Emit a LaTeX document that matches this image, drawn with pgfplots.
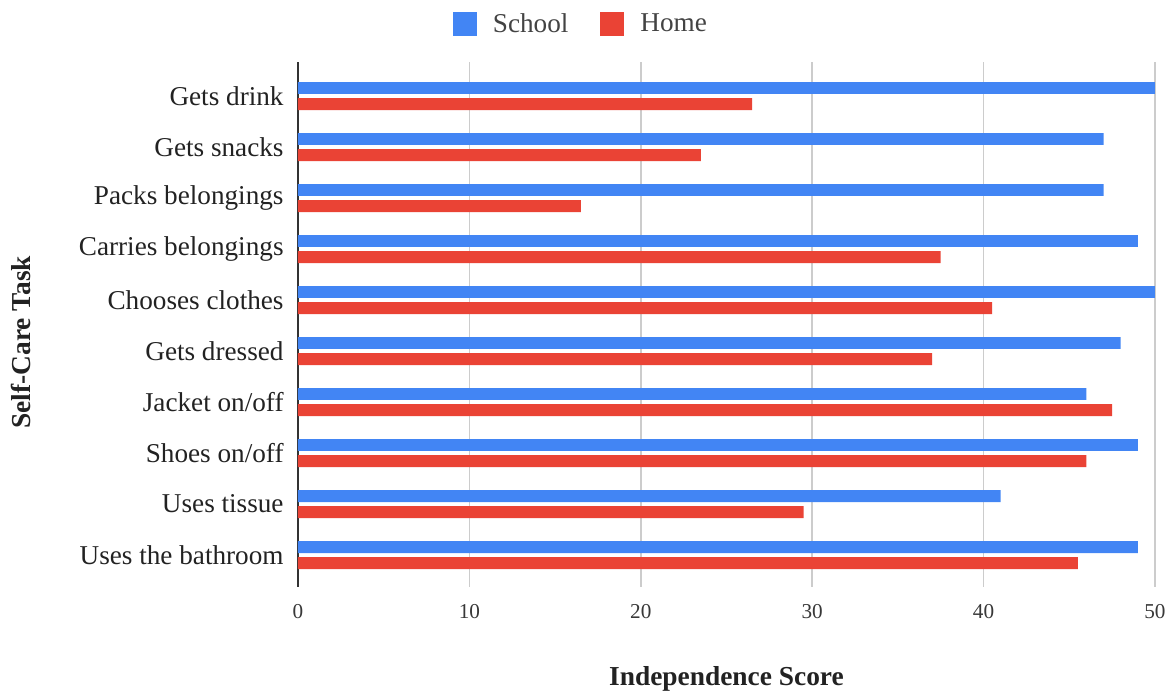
\documentclass[border=0pt]{standalone}
\usepackage{fontspec}
\setmainfont{Liberation Serif}
\usepackage{pgfplots}
\pgfplotsset{compat=1.18}
\usepackage{pgfplotstable}

\definecolor{schoolblue}{HTML}{4285F4}
\definecolor{homered}{HTML}{EA4335}
\definecolor{gridgray}{HTML}{CCCCCC}
\definecolor{axisdark}{HTML}{333333}
\definecolor{textdark}{HTML}{222222}

% Tasks listed bottom (0) to top (9)
\pgfplotstableread{
pos school home
9 50 26.5
8 47 23.5
7 47 16.5
6 49 37.5
5 50 40.5
4 48 37
3 46 47.5
2 49 46
1 41 29.5
0 49 45.5
}\scores

\begin{document}
\begin{tikzpicture}
\useasboundingbox (0,0) rectangle (587.5pt,348pt);
\begin{axis}[
  at={(149pt,54.5pt)}, anchor=south west,
  scale only axis,
  width=428.5pt, height=262.5pt,
  xbar,
  xmin=0, xmax=50,
  ymin=-0.627, ymax=9.667,
  xtick={10,20,30,40,50},
  extra x ticks={0},
  extra x tick style={grid style={color=axisdark, line width=0.8pt}},
  ytick={0,...,9},
  yticklabels={Uses the bathroom, Uses tissue, Shoes on/off, Jacket on/off,
    Gets dressed, Chooses clothes, Carries belongings, Packs belongings,
    Gets snacks, Gets drink},
  major tick length=0pt,
  axis line style={draw=none},
  xmajorgrids,
  grid style={color=gridgray, line width=0.75pt},
  /pgf/number format/assume math mode=true,
  yticklabel style={font=\fontsize{13.6}{16}\selectfont, text=textdark,
    anchor=east, inner sep=0pt, xshift=-7pt},
  xticklabel style={font=\fontsize{10.6}{12}\selectfont, text=textdark!90,
    anchor=north, inner sep=0pt, yshift=-8.3pt},
  xlabel={\textbf{Independence Score}},
  ylabel={\textbf{Self-Care Task}},
  xlabel style={font=\fontsize{13.7}{16}\selectfont, text=textdark,
    at={(axis description cs:0.5,-0.175)}, anchor=center},
  ylabel style={font=\fontsize{13.7}{16}\selectfont, text=textdark,
    at={(axis description cs:-0.3232,0.466)}, anchor=center},
  legend columns=2,
  legend style={
    at={(axis description cs:0.329,1.072)}, anchor=center,
    draw=none, fill=none,
    font=\fontsize{13.6}{16}\selectfont, text=textdark!85,
    nodes={inner sep=0pt},
    /tikz/every odd column/.append style={column sep=8pt},
    /tikz/every even column/.append style={column sep=16pt},
  },
  legend image code/.code={\fill[#1] (0pt,-6pt) rectangle (12pt,6pt);},
]
\addplot[draw=none, fill=schoolblue, bar width=0.235, bar shift=0.157]
  table[x=school, y=pos] {\scores};
\addlegendentry{School}
\addplot[draw=none, fill=homered, bar width=0.235, bar shift=-0.157]
  table[x=home, y=pos] {\scores};
\addlegendentry{Home}
\end{axis}
\end{tikzpicture}
\end{document}
